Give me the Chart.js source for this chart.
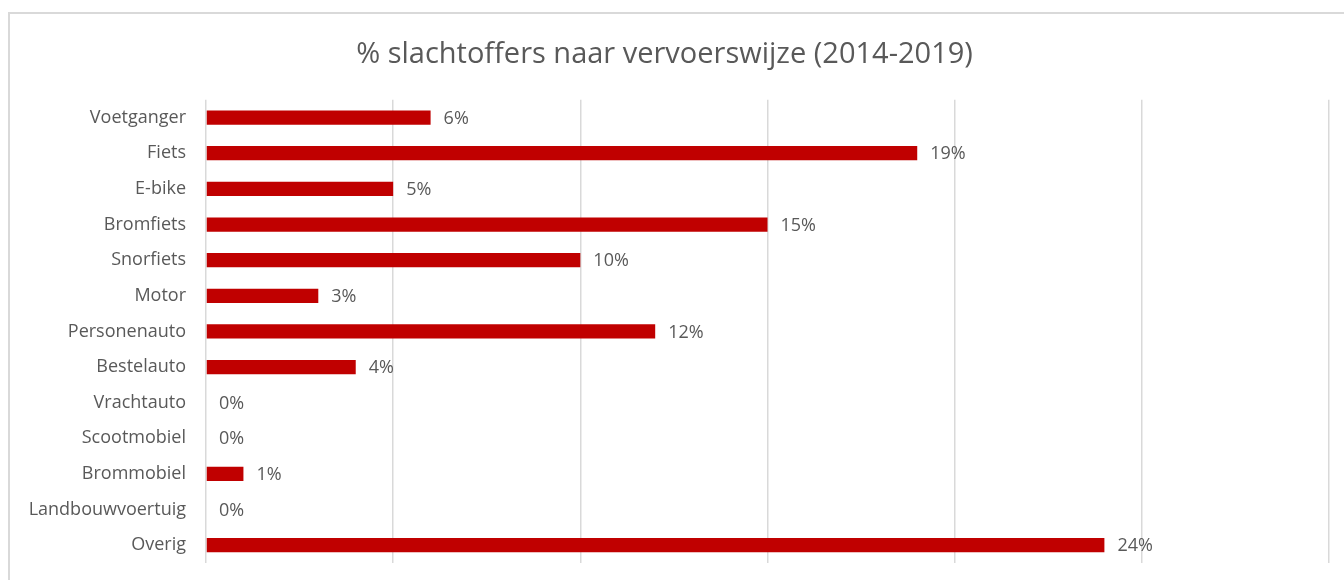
<!DOCTYPE html>
<html>
<head>
<meta charset="utf-8">
<script src="https://cdn.jsdelivr.net/npm/chart.js@4.4.1/dist/chart.umd.min.js"></script>
<style>
  html, body { margin: 0; padding: 0; background: #fff; overflow: hidden; }
  #wrap { position: relative; width: 1344px; height: 580px; }
  #frame {
    position: absolute; left: 8px; top: 12px; width: 1400px; height: 700px;
    border: 2px solid #d9d9d9; box-sizing: border-box; pointer-events: none;
  }
  canvas { position: absolute; left: 0; top: 0; }
</style>
</head>
<body>
<div id="wrap">
  <div id="frame"></div>
  <canvas id="chart" width="1344" height="580"></canvas>
</div>
<script>
// vervoerswijze en aandeel slachtoffers (%)
const categories = [
  'Voetganger', 'Fiets', 'E-bike', 'Bromfiets', 'Snorfiets', 'Motor',
  'Personenauto', 'Bestelauto', 'Vrachtauto', 'Scootmobiel', 'Brommobiel',
  'Landbouwvoertuig', 'Overig'
];
const shares = [6, 19, 5, 15, 10, 3, 12, 4, 0, 0, 1, 0, 24];
const axisMax = 30;
const axisStep = 5;

const BAR   = '#c00000';
const GRID  = '#d9d9d9';
const TEXT  = '#595959';
const FONT  = "'Open Sans', sans-serif";

// percentage labels just past the end of each bar
const valueLabels = {
  id: 'valueLabels',
  afterDatasetsDraw(chart) {
    const ctx = chart.ctx;
    const meta = chart.getDatasetMeta(0);
    ctx.save();
    ctx.fillStyle = TEXT;
    ctx.font = '18px ' + FONT;
    ctx.textAlign = 'left';
    ctx.textBaseline = 'middle';
    meta.data.forEach((bar, i) => {
      ctx.fillText(shares[i] + '%', bar.x + 13, bar.y + 1);
    });
    ctx.restore();
  }
};

new Chart(document.getElementById('chart'), {
  type: 'bar',
  data: {
    labels: categories,
    datasets: [{
      data: shares,
      backgroundColor: BAR,
      borderWidth: 0,
      categoryPercentage: 1,
      barPercentage: 0.4
    }]
  },
  options: {
    indexAxis: 'y',
    responsive: false,
    animation: false,
    layout: { padding: { top: 0, right: 15, bottom: 17, left: 0 } },
    plugins: {
      legend: { display: false },
      tooltip: { enabled: false },
      title: {
        display: true,
        text: '% slachtoffers naar vervoerswijze (2014-2019)',
        color: TEXT,
        font: { family: FONT, size: 29, weight: 'normal' },
        padding: { top: 37, bottom: 28 }
      }
    },
    scales: {
      x: {
        min: 0,
        max: axisMax,
        ticks: { display: false, stepSize: axisStep },
        grid: { color: GRID, lineWidth: 1.5, drawTicks: false },
        border: { display: false },
        afterFit(scale) { scale.height = 0; }
      },
      y: {
        grid: { display: false, drawTicks: false },
        border: { display: false },
        ticks: { color: TEXT, padding: 20, font: { family: FONT, size: 18 } },
        afterFit(scale) {
          // the label gap should not push the plot area up from the bottom
          scale.width = 206;
          scale.paddingTop = 0;
          scale.paddingBottom = 0;
        }
      }
    }
  },
  plugins: [valueLabels]
});
</script>
</body>
</html>
